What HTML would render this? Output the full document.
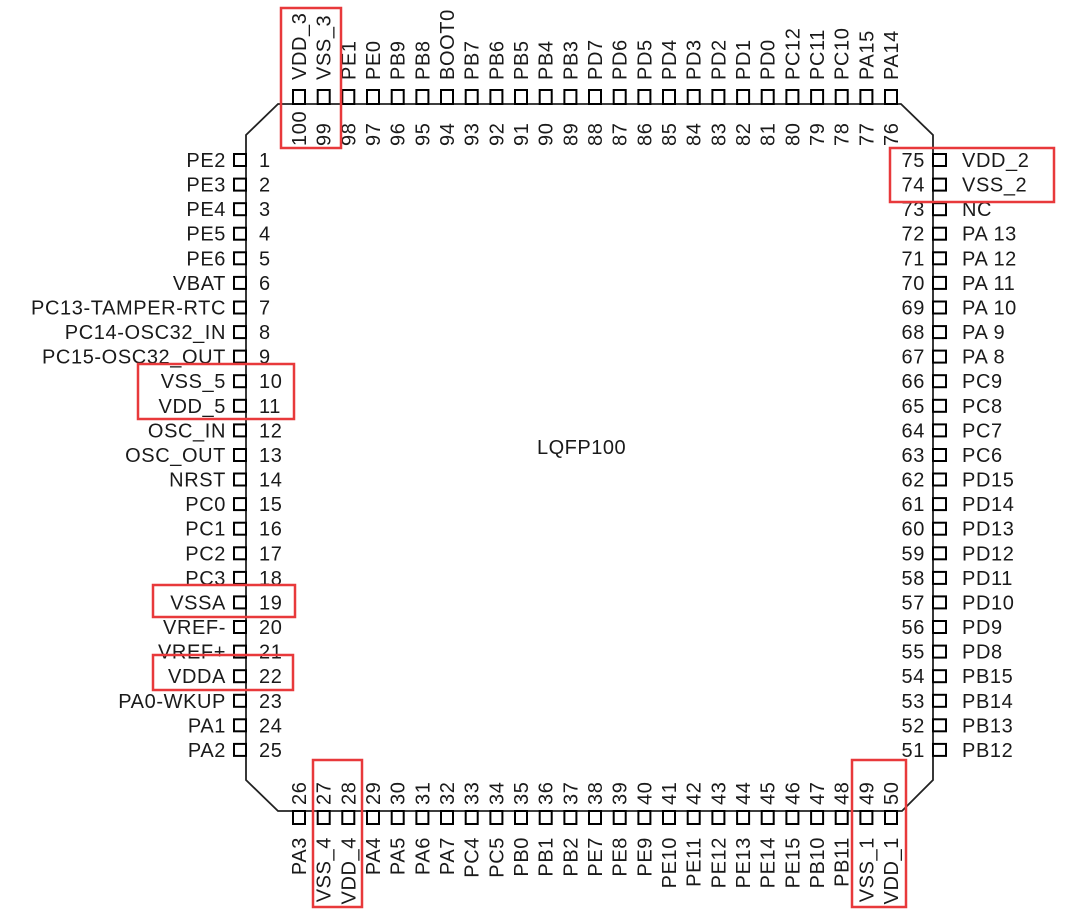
<!DOCTYPE html>
<html><head><meta charset="utf-8"><style>
html,body{margin:0;padding:0;background:#fff;}
svg{display:block;}
text{font-family:"Liberation Sans",sans-serif;font-size:20px;letter-spacing:0.6px;fill:#1a1a1a;}
.l{text-anchor:end;}
.r{stroke:#e8393b;stroke-width:2.5;fill:none;}
.p{stroke:#000;stroke-width:2;fill:none;}
</style></head><body>
<svg width="1080" height="911" viewBox="0 0 1080 911" xmlns="http://www.w3.org/2000/svg">
<path d="M278,104 H901 L933,135 V780 L902,811 H278 L246,780 V135 Z" fill="none" stroke="#222" stroke-width="1.8"/>
<text x="537" y="454" style="font-size:20px;letter-spacing:0.5px">LQFP100</text>
<g class="p">
<rect x="234" y="154" width="12" height="12"/><rect x="234" y="178.6" width="12" height="12"/><rect x="234" y="203.2" width="12" height="12"/><rect x="234" y="227.7" width="12" height="12"/><rect x="234" y="252.3" width="12" height="12"/>
<rect x="234" y="276.9" width="12" height="12"/><rect x="234" y="301.5" width="12" height="12"/><rect x="234" y="326.1" width="12" height="12"/><rect x="234" y="350.6" width="12" height="12"/><rect x="234" y="375.2" width="12" height="12"/>
<rect x="234" y="399.8" width="12" height="12"/><rect x="234" y="424.4" width="12" height="12"/><rect x="234" y="449" width="12" height="12"/><rect x="234" y="473.5" width="12" height="12"/><rect x="234" y="498.1" width="12" height="12"/>
<rect x="234" y="522.7" width="12" height="12"/><rect x="234" y="547.3" width="12" height="12"/><rect x="234" y="571.9" width="12" height="12"/><rect x="234" y="596.4" width="12" height="12"/><rect x="234" y="621" width="12" height="12"/>
<rect x="234" y="645.6" width="12" height="12"/><rect x="234" y="670.2" width="12" height="12"/><rect x="234" y="694.8" width="12" height="12"/><rect x="234" y="719.3" width="12" height="12"/><rect x="234" y="743.9" width="12" height="12"/>
<rect x="933" y="154" width="13" height="12"/><rect x="933" y="178.6" width="13" height="12"/><rect x="933" y="203.2" width="13" height="12"/><rect x="933" y="227.7" width="13" height="12"/><rect x="933" y="252.3" width="13" height="12"/>
<rect x="933" y="276.9" width="13" height="12"/><rect x="933" y="301.5" width="13" height="12"/><rect x="933" y="326.1" width="13" height="12"/><rect x="933" y="350.6" width="13" height="12"/><rect x="933" y="375.2" width="13" height="12"/>
<rect x="933" y="399.8" width="13" height="12"/><rect x="933" y="424.4" width="13" height="12"/><rect x="933" y="449" width="13" height="12"/><rect x="933" y="473.5" width="13" height="12"/><rect x="933" y="498.1" width="13" height="12"/>
<rect x="933" y="522.7" width="13" height="12"/><rect x="933" y="547.3" width="13" height="12"/><rect x="933" y="571.9" width="13" height="12"/><rect x="933" y="596.4" width="13" height="12"/><rect x="933" y="621" width="13" height="12"/>
<rect x="933" y="645.6" width="13" height="12"/><rect x="933" y="670.2" width="13" height="12"/><rect x="933" y="694.8" width="13" height="12"/><rect x="933" y="719.3" width="13" height="12"/><rect x="933" y="743.9" width="13" height="12"/>
<rect x="293" y="90" width="12" height="14"/><rect x="317.7" y="90" width="12" height="14"/><rect x="342.3" y="90" width="12" height="14"/><rect x="367" y="90" width="12" height="14"/><rect x="391.7" y="90" width="12" height="14"/>
<rect x="416.4" y="90" width="12" height="14"/><rect x="441" y="90" width="12" height="14"/><rect x="465.7" y="90" width="12" height="14"/><rect x="490.4" y="90" width="12" height="14"/><rect x="515" y="90" width="12" height="14"/>
<rect x="539.7" y="90" width="12" height="14"/><rect x="564.4" y="90" width="12" height="14"/><rect x="589" y="90" width="12" height="14"/><rect x="613.7" y="90" width="12" height="14"/><rect x="638.4" y="90" width="12" height="14"/>
<rect x="663" y="90" width="12" height="14"/><rect x="687.7" y="90" width="12" height="14"/><rect x="712.4" y="90" width="12" height="14"/><rect x="737.1" y="90" width="12" height="14"/><rect x="761.7" y="90" width="12" height="14"/>
<rect x="786.4" y="90" width="12" height="14"/><rect x="811.1" y="90" width="12" height="14"/><rect x="835.7" y="90" width="12" height="14"/><rect x="860.4" y="90" width="12" height="14"/><rect x="885" y="90" width="12" height="14"/>
<rect x="293" y="811" width="12" height="13"/><rect x="317.7" y="811" width="12" height="13"/><rect x="342.3" y="811" width="12" height="13"/><rect x="367" y="811" width="12" height="13"/><rect x="391.7" y="811" width="12" height="13"/>
<rect x="416.4" y="811" width="12" height="13"/><rect x="441" y="811" width="12" height="13"/><rect x="465.7" y="811" width="12" height="13"/><rect x="490.4" y="811" width="12" height="13"/><rect x="515" y="811" width="12" height="13"/>
<rect x="539.7" y="811" width="12" height="13"/><rect x="564.4" y="811" width="12" height="13"/><rect x="589" y="811" width="12" height="13"/><rect x="613.7" y="811" width="12" height="13"/><rect x="638.4" y="811" width="12" height="13"/>
<rect x="663" y="811" width="12" height="13"/><rect x="687.7" y="811" width="12" height="13"/><rect x="712.4" y="811" width="12" height="13"/><rect x="737.1" y="811" width="12" height="13"/><rect x="761.7" y="811" width="12" height="13"/>
<rect x="786.4" y="811" width="12" height="13"/><rect x="811.1" y="811" width="12" height="13"/><rect x="835.7" y="811" width="12" height="13"/><rect x="860.4" y="811" width="12" height="13"/><rect x="885" y="811" width="12" height="13"/>
</g>
<text class="l" x="226" y="167">PE2</text><text x="259" y="167">1</text>
<text class="l" x="226" y="191.6">PE3</text><text x="259" y="191.6">2</text>
<text class="l" x="226" y="216.2">PE4</text><text x="259" y="216.2">3</text>
<text class="l" x="226" y="240.7">PE5</text><text x="259" y="240.7">4</text>
<text class="l" x="226" y="265.3">PE6</text><text x="259" y="265.3">5</text>
<text class="l" x="226" y="289.9">VBAT</text><text x="259" y="289.9">6</text>
<text class="l" x="226" y="314.5">PC13-TAMPER-RTC</text><text x="259" y="314.5">7</text>
<text class="l" x="226" y="339.1">PC14-OSC32_IN</text><text x="259" y="339.1">8</text>
<text class="l" x="226" y="363.6">PC15-OSC32_OUT</text><text x="259" y="363.6">9</text>
<text class="l" x="226" y="388.2">VSS_5</text><text x="259" y="388.2">10</text>
<text class="l" x="226" y="412.8">VDD_5</text><text x="259" y="412.8">11</text>
<text class="l" x="226" y="437.4">OSC_IN</text><text x="259" y="437.4">12</text>
<text class="l" x="226" y="462">OSC_OUT</text><text x="259" y="462">13</text>
<text class="l" x="226" y="486.5">NRST</text><text x="259" y="486.5">14</text>
<text class="l" x="226" y="511.1">PC0</text><text x="259" y="511.1">15</text>
<text class="l" x="226" y="535.7">PC1</text><text x="259" y="535.7">16</text>
<text class="l" x="226" y="560.3">PC2</text><text x="259" y="560.3">17</text>
<text class="l" x="226" y="584.9">PC3</text><text x="259" y="584.9">18</text>
<text class="l" x="226" y="609.4">VSSA</text><text x="259" y="609.4">19</text>
<text class="l" x="226" y="634">VREF-</text><text x="259" y="634">20</text>
<text class="l" x="226" y="658.6">VREF+</text><text x="259" y="658.6">21</text>
<text class="l" x="226" y="683.2">VDDA</text><text x="259" y="683.2">22</text>
<text class="l" x="226" y="707.8">PA0-WKUP</text><text x="259" y="707.8">23</text>
<text class="l" x="226" y="732.3">PA1</text><text x="259" y="732.3">24</text>
<text class="l" x="226" y="756.9">PA2</text><text x="259" y="756.9">25</text>
<text class="l" x="925" y="167">75</text><text x="962" y="167">VDD_2</text>
<text class="l" x="925" y="191.6">74</text><text x="962" y="191.6">VSS_2</text>
<text class="l" x="925" y="216.2">73</text><text x="962" y="216.2">NC</text>
<text class="l" x="925" y="240.7">72</text><text x="962" y="240.7">PA 13</text>
<text class="l" x="925" y="265.3">71</text><text x="962" y="265.3">PA 12</text>
<text class="l" x="925" y="289.9">70</text><text x="962" y="289.9">PA 11</text>
<text class="l" x="925" y="314.5">69</text><text x="962" y="314.5">PA 10</text>
<text class="l" x="925" y="339.1">68</text><text x="962" y="339.1">PA 9</text>
<text class="l" x="925" y="363.6">67</text><text x="962" y="363.6">PA 8</text>
<text class="l" x="925" y="388.2">66</text><text x="962" y="388.2">PC9</text>
<text class="l" x="925" y="412.8">65</text><text x="962" y="412.8">PC8</text>
<text class="l" x="925" y="437.4">64</text><text x="962" y="437.4">PC7</text>
<text class="l" x="925" y="462">63</text><text x="962" y="462">PC6</text>
<text class="l" x="925" y="486.5">62</text><text x="962" y="486.5">PD15</text>
<text class="l" x="925" y="511.1">61</text><text x="962" y="511.1">PD14</text>
<text class="l" x="925" y="535.7">60</text><text x="962" y="535.7">PD13</text>
<text class="l" x="925" y="560.3">59</text><text x="962" y="560.3">PD12</text>
<text class="l" x="925" y="584.9">58</text><text x="962" y="584.9">PD11</text>
<text class="l" x="925" y="609.4">57</text><text x="962" y="609.4">PD10</text>
<text class="l" x="925" y="634">56</text><text x="962" y="634">PD9</text>
<text class="l" x="925" y="658.6">55</text><text x="962" y="658.6">PD8</text>
<text class="l" x="925" y="683.2">54</text><text x="962" y="683.2">PB15</text>
<text class="l" x="925" y="707.8">53</text><text x="962" y="707.8">PB14</text>
<text class="l" x="925" y="732.3">52</text><text x="962" y="732.3">PB13</text>
<text class="l" x="925" y="756.9">51</text><text x="962" y="756.9">PB12</text>
<text transform="translate(306,80) rotate(-90)">VDD_3</text><text transform="translate(306,146) rotate(-90)">100</text>
<text transform="translate(330.7,80) rotate(-90)">VSS_3</text><text transform="translate(330.7,146) rotate(-90)">99</text>
<text transform="translate(355.3,80) rotate(-90)">PE1</text><text transform="translate(355.3,146) rotate(-90)">98</text>
<text transform="translate(380,80) rotate(-90)">PE0</text><text transform="translate(380,146) rotate(-90)">97</text>
<text transform="translate(404.7,80) rotate(-90)">PB9</text><text transform="translate(404.7,146) rotate(-90)">96</text>
<text transform="translate(429.4,80) rotate(-90)">PB8</text><text transform="translate(429.4,146) rotate(-90)">95</text>
<text transform="translate(454,80) rotate(-90)">BOOT0</text><text transform="translate(454,146) rotate(-90)">94</text>
<text transform="translate(478.7,80) rotate(-90)">PB7</text><text transform="translate(478.7,146) rotate(-90)">93</text>
<text transform="translate(503.4,80) rotate(-90)">PB6</text><text transform="translate(503.4,146) rotate(-90)">92</text>
<text transform="translate(528,80) rotate(-90)">PB5</text><text transform="translate(528,146) rotate(-90)">91</text>
<text transform="translate(552.7,80) rotate(-90)">PB4</text><text transform="translate(552.7,146) rotate(-90)">90</text>
<text transform="translate(577.4,80) rotate(-90)">PB3</text><text transform="translate(577.4,146) rotate(-90)">89</text>
<text transform="translate(602,80) rotate(-90)">PD7</text><text transform="translate(602,146) rotate(-90)">88</text>
<text transform="translate(626.7,80) rotate(-90)">PD6</text><text transform="translate(626.7,146) rotate(-90)">87</text>
<text transform="translate(651.4,80) rotate(-90)">PD5</text><text transform="translate(651.4,146) rotate(-90)">86</text>
<text transform="translate(676,80) rotate(-90)">PD4</text><text transform="translate(676,146) rotate(-90)">85</text>
<text transform="translate(700.7,80) rotate(-90)">PD3</text><text transform="translate(700.7,146) rotate(-90)">84</text>
<text transform="translate(725.4,80) rotate(-90)">PD2</text><text transform="translate(725.4,146) rotate(-90)">83</text>
<text transform="translate(750.1,80) rotate(-90)">PD1</text><text transform="translate(750.1,146) rotate(-90)">82</text>
<text transform="translate(774.7,80) rotate(-90)">PD0</text><text transform="translate(774.7,146) rotate(-90)">81</text>
<text transform="translate(799.4,80) rotate(-90)">PC12</text><text transform="translate(799.4,146) rotate(-90)">80</text>
<text transform="translate(824.1,80) rotate(-90)">PC11</text><text transform="translate(824.1,146) rotate(-90)">79</text>
<text transform="translate(848.7,80) rotate(-90)">PC10</text><text transform="translate(848.7,146) rotate(-90)">78</text>
<text transform="translate(873.4,80) rotate(-90)">PA15</text><text transform="translate(873.4,146) rotate(-90)">77</text>
<text transform="translate(898,80) rotate(-90)">PA14</text><text transform="translate(898,146) rotate(-90)">76</text>
<text transform="translate(306,805) rotate(-90)">26</text><text class="l" transform="translate(306,837) rotate(-90)">PA3</text>
<text transform="translate(330.7,805) rotate(-90)">27</text><text class="l" transform="translate(330.7,837) rotate(-90)">VSS_4</text>
<text transform="translate(355.3,805) rotate(-90)">28</text><text class="l" transform="translate(355.3,837) rotate(-90)">VDD_4</text>
<text transform="translate(380,805) rotate(-90)">29</text><text class="l" transform="translate(380,837) rotate(-90)">PA4</text>
<text transform="translate(404.7,805) rotate(-90)">30</text><text class="l" transform="translate(404.7,837) rotate(-90)">PA5</text>
<text transform="translate(429.4,805) rotate(-90)">31</text><text class="l" transform="translate(429.4,837) rotate(-90)">PA6</text>
<text transform="translate(454,805) rotate(-90)">32</text><text class="l" transform="translate(454,837) rotate(-90)">PA7</text>
<text transform="translate(478.7,805) rotate(-90)">33</text><text class="l" transform="translate(478.7,837) rotate(-90)">PC4</text>
<text transform="translate(503.4,805) rotate(-90)">34</text><text class="l" transform="translate(503.4,837) rotate(-90)">PC5</text>
<text transform="translate(528,805) rotate(-90)">35</text><text class="l" transform="translate(528,837) rotate(-90)">PB0</text>
<text transform="translate(552.7,805) rotate(-90)">36</text><text class="l" transform="translate(552.7,837) rotate(-90)">PB1</text>
<text transform="translate(577.4,805) rotate(-90)">37</text><text class="l" transform="translate(577.4,837) rotate(-90)">PB2</text>
<text transform="translate(602,805) rotate(-90)">38</text><text class="l" transform="translate(602,837) rotate(-90)">PE7</text>
<text transform="translate(626.7,805) rotate(-90)">39</text><text class="l" transform="translate(626.7,837) rotate(-90)">PE8</text>
<text transform="translate(651.4,805) rotate(-90)">40</text><text class="l" transform="translate(651.4,837) rotate(-90)">PE9</text>
<text transform="translate(676,805) rotate(-90)">41</text><text class="l" transform="translate(676,837) rotate(-90)">PE10</text>
<text transform="translate(700.7,805) rotate(-90)">42</text><text class="l" transform="translate(700.7,837) rotate(-90)">PE11</text>
<text transform="translate(725.4,805) rotate(-90)">43</text><text class="l" transform="translate(725.4,837) rotate(-90)">PE12</text>
<text transform="translate(750.1,805) rotate(-90)">44</text><text class="l" transform="translate(750.1,837) rotate(-90)">PE13</text>
<text transform="translate(774.7,805) rotate(-90)">45</text><text class="l" transform="translate(774.7,837) rotate(-90)">PE14</text>
<text transform="translate(799.4,805) rotate(-90)">46</text><text class="l" transform="translate(799.4,837) rotate(-90)">PE15</text>
<text transform="translate(824.1,805) rotate(-90)">47</text><text class="l" transform="translate(824.1,837) rotate(-90)">PB10</text>
<text transform="translate(848.7,805) rotate(-90)">48</text><text class="l" transform="translate(848.7,837) rotate(-90)">PB11</text>
<text transform="translate(873.4,805) rotate(-90)">49</text><text class="l" transform="translate(873.4,837) rotate(-90)">VSS_1</text>
<text transform="translate(898,805) rotate(-90)">50</text><text class="l" transform="translate(898,837) rotate(-90)">VDD_1</text>
<rect class="r" x="281" y="8" width="60" height="140"/>
<rect class="r" x="890" y="148" width="164" height="54"/>
<rect class="r" x="138" y="364" width="156" height="55"/>
<rect class="r" x="153" y="585" width="142" height="32"/>
<rect class="r" x="153" y="655" width="140" height="35"/>
<rect class="r" x="313" y="760" width="49" height="147"/>
<rect class="r" x="852" y="760" width="54" height="147"/>
</svg>
</body></html>
